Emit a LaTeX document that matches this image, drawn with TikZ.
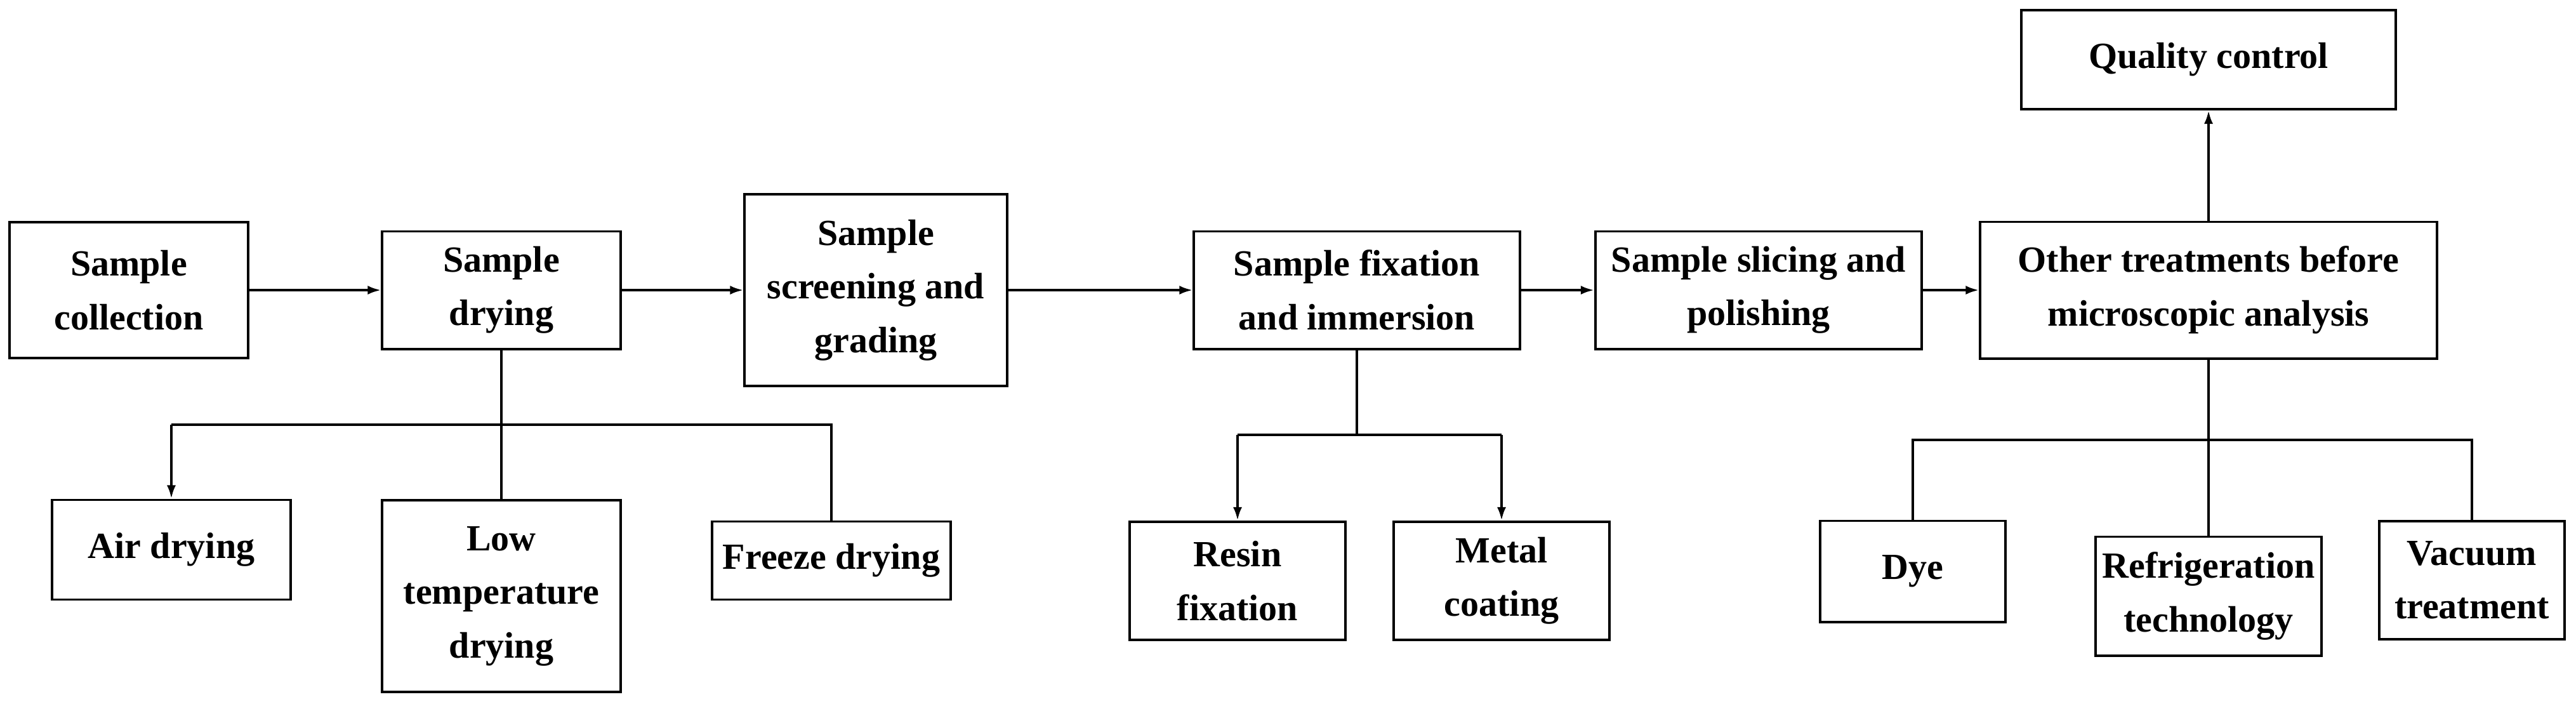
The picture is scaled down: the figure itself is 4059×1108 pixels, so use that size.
\documentclass[tikz,border=0pt]{standalone}
\usepackage{fontspec}
\setmainfont{Liberation Serif}
\usetikzlibrary{arrows.meta}
\begin{document}
\begin{tikzpicture}[x=0.01cm,y=-0.01cm,
  box/.style={draw,line width=1.1pt,align=center,inner sep=0pt,font=\fontsize{16.5}{24}\selectfont\bfseries},
  ln/.style={line width=1.1pt},
  arr/.style={ln,-{Latex[length=6pt,width=4pt]}}]
\useasboundingbox (0,0) rectangle (4059,1108);
\node[box,minimum width=3.76cm,minimum height=2.14cm] (col) at (203,457) {Sample\\collection};
\node[box,minimum width=3.75cm,minimum height=1.85cm] (dry) at (790,457) {Sample\\drying};
\node[box,minimum width=4.13cm,minimum height=3.01cm] (scr) at (1380,457) {Sample\\screening and\\grading};
\node[box,minimum width=5.13cm,minimum height=1.85cm] (fix) at (2138,457) {Sample fixation\\and immersion};
\node[box,minimum width=5.14cm,minimum height=1.85cm] (sli) at (2771,457) {Sample slicing and\\polishing};
\node[box,minimum width=7.19cm,minimum height=2.15cm] (oth) at (3480,457) {Other treatments before\\microscopic analysis};
\node[box,minimum width=5.89cm,minimum height=1.56cm] (qc) at (3480,94) {Quality control};
\node[box,minimum width=3.75cm,minimum height=1.57cm] (air) at (270,866) {Air drying};
\node[box,minimum width=3.75cm,minimum height=3.01cm] (low) at (790,939) {Low\\temperature\\drying};
\node[box,minimum width=3.76cm,minimum height=1.23cm] (frz) at (1310,883) {Freeze drying};
\node[box,minimum width=3.39cm,minimum height=1.86cm] (res) at (1950,915) {Resin\\fixation};
\node[box,minimum width=3.39cm,minimum height=1.86cm] (met) at (2366,915) {Metal\\coating};
\node[box,minimum width=2.92cm,minimum height=1.59cm] (dye) at (3014,900) {Dye};
\node[box,minimum width=3.56cm,minimum height=1.87cm] (ref) at (3480,939) {Refrigeration\\technology};
\node[box,minimum width=2.92cm,minimum height=1.86cm] (vac) at (3895,914) {Vacuum\\treatment};
\draw[arr] (col) -- (dry);
\draw[arr] (dry) -- (scr);
\draw[arr] (scr) -- (fix);
\draw[arr] (fix) -- (sli);
\draw[arr] (sli) -- (oth);
\draw[arr] (oth) -- (qc);
\coordinate (b1l) at (270,669);
\coordinate (b1r) at (1310,669);
\draw[ln] (dry) -- (low);
\draw[ln] (b1l) -- (b1r) -- (frz);
\draw[arr] (b1l) -- (air);
\coordinate (b2m) at (2138,685);
\coordinate (b2l) at (1950,685);
\coordinate (b2r) at (2366,685);
\draw[ln] (fix) -- (b2m);
\draw[ln] (b2l) -- (b2r);
\draw[arr] (b2l) -- (res);
\draw[arr] (b2r) -- (met);
\coordinate (b3l) at (3014,693);
\coordinate (b3r) at (3895,693);
\draw[ln] (oth) -- (ref);
\draw[ln] (dye) -- (b3l) -- (b3r) -- (vac);
\end{tikzpicture}
\end{document}
